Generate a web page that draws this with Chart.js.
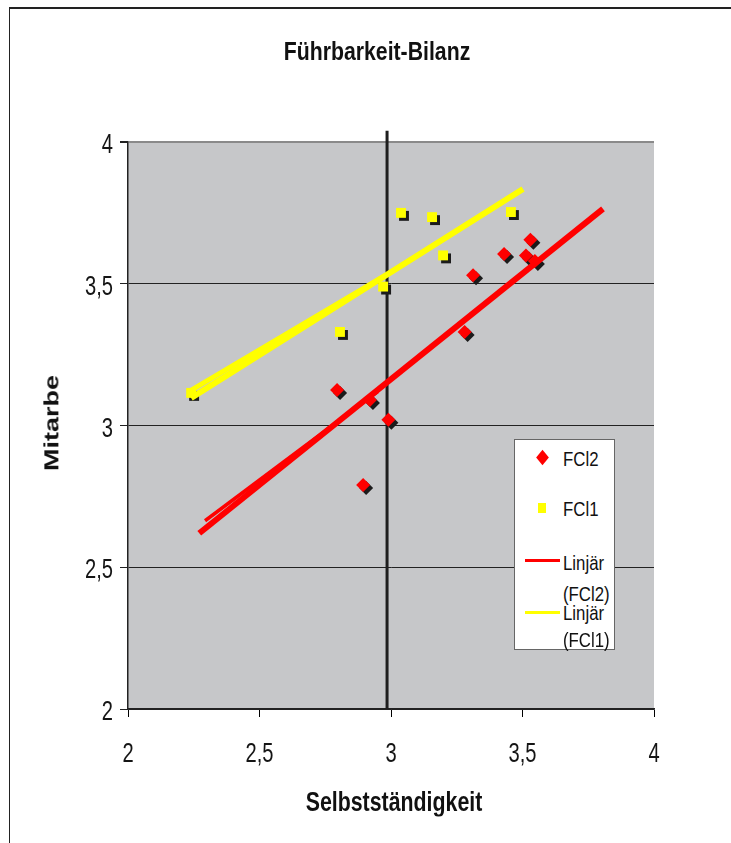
<!DOCTYPE html>
<html>
<head>
<meta charset="utf-8">
<script src="https://cdn.jsdelivr.net/npm/chart.js@4.4.1/dist/chart.umd.min.js"></script>
<style>
  html, body { margin: 0; padding: 0; background: #fff; }
  #wrap { position: relative; width: 731px; height: 843px; overflow: hidden; font-family: "Liberation Sans", Arial, sans-serif; color: #111; }
  #frame { position: absolute; left: 9px; top: 7px; width: 740px; height: 900px; border-left: 1.5px solid #222; border-top: 2px solid #222; }
  canvas { position: absolute; left: 0; top: 0; }
  .ttl { position: absolute; font-weight: bold; white-space: nowrap; line-height: 1; }
  #legend { position: absolute; left: 514px; top: 439px; width: 101px; height: 211px; background: #fff; border: 1px solid #666; box-sizing: border-box; font-size: 21px; }
  #legend .t { position: absolute; left: 48px; white-space: nowrap; line-height: 1; transform: scaleX(0.8); transform-origin: left center; }
  #legend .d { position: absolute; width: 9px; height: 9px; background: #f00; transform: scaleY(1.2) rotate(45deg); }
  #legend .s { position: absolute; width: 8px; height: 10px; background: #ffff00; }
  #legend .l { position: absolute; width: 35px; height: 3px; }
</style>
</head>
<body>
<div id="wrap">
  <div id="frame"></div>
  <canvas id="c" width="731" height="843"></canvas>
  <div class="ttl" style="left:377px;top:51px;font-size:25px;transform:translate(-50%,-50%) scaleX(0.85);">Führbarkeit-Bilanz</div>
  <div class="ttl" style="left:394px;top:802px;font-size:27px;transform:translate(-50%,-50%) scaleX(0.79);">Selbstständigkeit</div>
  <div class="ttl" style="left:52px;top:423px;font-size:27px;transform:translate(-50%,-50%) rotate(-90deg) scaleY(0.75);">Mitarbe</div>
  <div id="legend">
    <div class="d" style="left:23px;top:13px;"></div><div class="t" style="top:8px;">FCl2</div>
    <div class="s" style="left:23px;top:63px;"></div><div class="t" style="top:58px;">FCl1</div>
    <div class="l" style="left:10px;top:119px;background:#f00;"></div><div class="t" style="top:112px;">Linjär</div>
    <div class="t" style="top:143px;">(FCl2)</div>
    <div class="l" style="left:10px;top:171px;background:#ffff00;"></div><div class="t" style="top:162px;">Linjär</div>
    <div class="t" style="top:189px;">(FCl1)</div>
  </div>
</div>
<script>
// ---- data ----
const fcl2X = [2.795, 2.92, 2.99, 2.894, 3.312, 3.28, 3.43, 3.53, 3.513, 3.547];
const fcl2Y = [3.125, 3.09, 3.02, 2.79, 3.53, 3.33, 3.605, 3.655, 3.60, 3.58];
const fcl1X = [2.24, 2.806, 2.97, 3.038, 3.156, 3.198, 3.456];
const fcl1Y = [3.115, 3.33, 3.49, 3.75, 3.735, 3.60, 3.753];
// trendlines (two slightly offset copies as in the original)
const trend2X = [2.271, 3.806];
const trend2Y = [2.62, 3.764];
const trend2bX = [2.293, 2.95];
const trend2bY = [2.664, 3.12];
const trend1X = [2.24, 3.502];
const trend1Y = [3.097, 3.834];
const trend1bX = [2.236, 2.98];
const trend1bY = [3.122, 3.53];
// vertical reference line
const refX = [2.985, 2.985];
const refY = [2.0, 4.04];
const xTicks = [2, 2.5, 3, 3.5, 4];
const yTicks = [2, 2.5, 3, 3.5, 4];

const pts = (xs, ys) => xs.map((x, i) => ({ x: x, y: ys[i] }));
const fmt = v => String(v).replace('.', ',');

const bgPlugin = {
  id: 'bg',
  beforeDraw(chart) {
    const a = chart.chartArea, ctx = chart.ctx;
    ctx.save();
    ctx.fillStyle = '#c6c7c9';
    ctx.fillRect(a.left, a.top, a.right - a.left, a.bottom - a.top);
    ctx.restore();
  }
};
const shadowPlugin = {
  id: 'shadow',
  beforeDatasetDraw(chart, args) {
    const ds = chart.data.datasets[args.index];
    if (ds.shadow) {
      const ctx = chart.ctx;
      ctx.save();
      ctx.shadowColor = '#1b1b1b';
      ctx.shadowOffsetX = 3;
      ctx.shadowOffsetY = 3;
      ctx.shadowBlur = 0;
    }
  },
  afterDatasetDraw(chart, args) {
    const ds = chart.data.datasets[args.index];
    if (ds.shadow) chart.ctx.restore();
  }
};
// condensed tick labels (the original uses a narrow, tall face)
function drawScaled(ctx, s, x, y, align, sx) {
  ctx.save();
  ctx.translate(x, y);
  ctx.scale(sx, 1);
  ctx.textAlign = align;
  ctx.textBaseline = 'alphabetic';
  ctx.fillText(s, 0, 0);
  ctx.restore();
}
const tickLabelPlugin = {
  id: 'tickLabels',
  afterDraw(chart) {
    const ctx = chart.ctx, xs = chart.scales.x, ys = chart.scales.y;
    ctx.save();
    ctx.fillStyle = '#151515';
    ctx.font = '28px "Liberation Sans", Arial, sans-serif';
    xs.ticks.forEach(t => drawScaled(ctx, fmt(t.value), xs.getPixelForValue(t.value), xs.bottom - 134 + 53, 'center', 0.72));
    ys.ticks.forEach(t => drawScaled(ctx, fmt(t.value), ys.right - 15, ys.getPixelForValue(t.value) + 11, 'right', 0.72));
    ctx.restore();
  }
};

new Chart(document.getElementById('c'), {
  type: 'scatter',
  data: {
    datasets: [
      { label: 'Linjär (FCl2)', data: pts(trend2X, trend2Y), showLine: true, borderColor: '#ff0000', borderWidth: 6, pointRadius: 0, order: 1 },
      { label: 'Linjär (FCl2) b', data: pts(trend2bX, trend2bY), showLine: true, borderColor: '#ff0000', borderWidth: 3.5, pointRadius: 0, order: 1 },
      { label: 'Linjär (FCl1)', data: pts(trend1X, trend1Y), showLine: true, borderColor: '#ffff00', borderWidth: 6, pointRadius: 0, order: 1 },
      { label: 'Linjär (FCl1) b', data: pts(trend1bX, trend1bY), showLine: true, borderColor: '#ffff00', borderWidth: 5, pointRadius: 0, order: 1 },
      { label: 'FCl2', data: pts(fcl2X, fcl2Y), pointStyle: 'rectRot', pointRadius: 7, backgroundColor: '#ff0000', borderColor: '#ff0000', borderWidth: 0, shadow: true, order: 5 },
      { label: 'FCl1', data: pts(fcl1X, fcl1Y), pointStyle: 'rect', pointRadius: 7, backgroundColor: '#ffff00', borderColor: '#ffff00', borderWidth: 0, shadow: true, order: 5 },
      { label: 'ref', data: pts(refX, refY), showLine: true, borderColor: '#1e1e1e', borderWidth: 3, pointRadius: 0, clip: false, order: 10 }
    ]
  },
  options: {
    responsive: false,
    animation: false,
    devicePixelRatio: 1,
    layout: { padding: { top: 142, right: 77, left: 0, bottom: 0 } },
    plugins: { legend: { display: false }, tooltip: { enabled: false }, title: { display: false } },
    scales: {
      x: {
        type: 'linear', min: 2, max: 4,
        afterFit(s) { s.height = 134; },
        afterBuildTicks(s) { s.ticks = xTicks.map(v => ({ value: v })); },
        ticks: { display: false },
        grid: { drawOnChartArea: false, drawTicks: true, tickLength: 8, color: '#000', tickColor: '#000' },
        border: { color: '#222', width: 1.5 }
      },
      y: {
        type: 'linear', min: 2, max: 4,
        afterFit(s) { s.width = 128; },
        afterBuildTicks(s) { s.ticks = yTicks.map(v => ({ value: v })); },
        ticks: { display: false },
        grid: { drawOnChartArea: true, drawTicks: true, tickLength: 8,
          color: c => (c.tick && c.tick.value === 4) ? '#8a8a8a' : '#222', tickColor: '#222', lineWidth: c => (c.tick && c.tick.value === 4) ? 2 : 1 },
        border: { color: '#222', width: 1.5 }
      }
    }
  },
  plugins: [bgPlugin, shadowPlugin, tickLabelPlugin]
});
</script>
</body>
</html>
